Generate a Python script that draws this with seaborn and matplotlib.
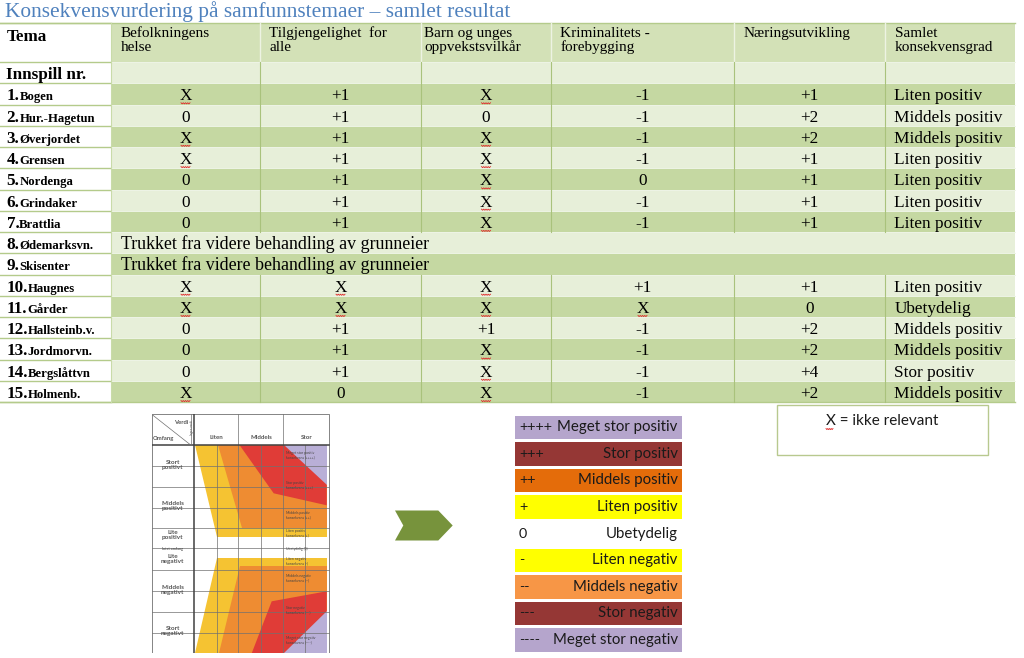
import numpy as np
import pandas as pd
import seaborn as sns
import matplotlib.pyplot as plt
from matplotlib.colors import ListedColormap
from matplotlib.patches import Rectangle

# ---- table content ----
title = "Konsekvensvurdering på samfunnstemaer – samlet resultat"
theme_headers = ["Befolkningens\nhelse", "Tilgjengelighet  for\nalle", "Barn og unges\noppvekstsvilkår",
                 "Kriminalitets -\nforebygging", "Næringsutvikling", "Samlet\nkonsekvensgrad"]
row_nums = ["1.", "2.", "3.", "4.", "5.", "6.", "7.", "8.", "9.", "10.", "11.", "12.", "13.", "14.", "15."]
row_names = ["Bogen", "Hur.-Hagetun", "Øverjordet", "Grensen", "Nordenga", "Grindaker", "Brattlia",
             "Ødemarksvn.", "Skisenter", "Haugnes", "Gårder", "Hallsteinb.v.", "Jordmorvn.",
             "Bergslåttvn", "Holmenb."]
befolkning = ["X", "0", "X", "X", "0", "0", "0", None, None, "X", "X", "0", "0", "0", "X"]
tilgjengelighet = ["+1", "+1", "+1", "+1", "+1", "+1", "+1", None, None, "X", "X", "+1", "+1", "+1", "0"]
barn = ["X", "0", "X", "X", "X", "X", "X", None, None, "X", "X", "+1", "X", "X", "X"]
kriminalitet = ["-1", "-1", "-1", "-1", "0", "-1", "-1", None, None, "+1", "X", "-1", "-1", "-1", "-1"]
naering = ["+1", "+2", "+2", "+1", "+1", "+1", "+1", None, None, "+1", "0", "+2", "+2", "+4", "+2"]
samlet = ["Liten positiv", "Middels positiv", "Middels positiv", "Liten positiv", "Liten positiv",
          "Liten positiv", "Liten positiv", None, None, "Liten positiv", "Ubetydelig",
          "Middels positiv", "Middels positiv", "Stor positiv", "Middels positiv"]
withdrawn_text = "Trukket fra videre behandling av grunneier"

# ---- colour key ----
key_symbols = ["++++", "+++", "++", "+", "0", "-", "--", "---", "----"]
key_labels = ["Meget stor positiv", "Stor positiv", "Middels positiv", "Liten positiv", "Ubetydelig",
              "Liten negativ", "Middels negativ", "Stor negativ", "Meget stor negativ"]
key_colors = ["#b5a5cc", "#953735", "#e46c0a", "#ffff00", "#ffffff",
              "#ffff00", "#f79646", "#953735", "#b5a5cc"]

# ---- small consequence matrix (local pixel coords of the pasted picture) ----
matrix_cols = ["Liten", "Middels", "Stor"]
matrix_rows = ["Stort\npositivt", "Middels\npositivt", "Lite\npositivt", "Lite\nnegativt",
               "Middels\nnegativt", "Stort\nnegativt"]
matrix_row_y = [51, 92, 121, 145, 176, 217]
matrix_notes = ["Meget stor positiv\nkonsekvens (++++)", "Stor positiv\nkonsekvens (+++)",
                "Middels positiv\nkonsekvens (++)", "Liten positiv\nkonsekvens (+)", "Ubetydelig (0)",
                "Liten negativ\nkonsekvens (-)", "Middels negativ\nkonsekvens (--)",
                "Stor negativ\nkonsekvens (---)", "Meget stor negativ\nkonsekvens (----)"]
matrix_note_y = [41, 71, 101, 119, 134.5, 147, 164, 196, 226]
yellow_up_x, yellow_up_y = [43, 175, 175, 65], [31, 31, 123, 123]
orange_up_x, orange_up_y = [66, 175, 175, 90], [31, 31, 114, 114]
red_up_x, red_up_y = [88, 175, 175, 122], [31, 31, 91, 79]
lav_up_x, lav_up_y = [132, 175, 175], [31, 31, 71]
yellow_lo_x, yellow_lo_y = [65, 175, 175, 43], [144, 144, 239, 239]
orange_lo_x, orange_lo_y = [88, 175, 175, 67], [152, 152, 239, 239]
red_lo_x, red_lo_y = [120, 175, 175, 100], [187, 177, 239, 239]
lav_lo_x, lav_lo_y = [175, 175, 132], [197, 239, 239]
matrix_hlines = [51.7, 72.3, 93.3, 114, 134, 155.7, 176.7, 197.3, 218.3]
matrix_vlines_full = [86.7, 131.7]
matrix_vlines_body = [65.7, 109, 153.3]

# ---- layout ----
W, H = 1024, 658
col_edges = [0, 111, 260, 421, 551, 734, 885, 1015]
head_x_pad = [9.7, 9.3, 3.5, 9.5, 10, 10]
head_top, head_bot, body_bot = 22.7, 62, 402.3
row_h = (body_bot - head_bot) / 16

green_head = "#d3e1b7"
green_dark = "#c5d8a2"
green_light = "#e7efd9"
line_green = "#b4cb8b"
title_blue = "#4f81bd"
serif = "Liberation Serif"
sans = "Lato"

fig = plt.figure(figsize=(W / 100, H / 100), dpi=100)


def px_axes(x0, y0, x1, y1):
    return fig.add_axes([x0 / W, 1 - y1 / H, (x1 - x0) / W, (y1 - y0) / H])


# striped body of the table
bands = pd.DataFrame({"shade": [i % 2 for i in range(16)]})
hax = px_axes(col_edges[1], head_bot, col_edges[-1], body_bot)
sns.heatmap(bands, ax=hax, cmap=ListedColormap([green_light, green_dark]), vmin=0, vmax=1,
            cbar=False, xticklabels=False, yticklabels=False)
hax.axis("off")

# colour key as horizontal bars
key_df = pd.DataFrame({"label": key_labels, "bar": [1] * len(key_labels)})
lax = px_axes(515, 414, 681.7, 653.3)
sns.barplot(data=key_df, x="bar", y="label", hue="label", palette=key_colors, orient="h",
            width=0.88, saturation=1, legend=False, ax=lax)
lax.set_xlim(0, 1)
lax.axis("off")
for i, (sym, lab) in enumerate(zip(key_symbols, key_labels)):
    lax.text(0.024, i, sym, ha="left", va="center", fontsize=10.4, family=sans, color="#1a1a1a")
    lax.text(0.976, i, lab, ha="right", va="center", fontsize=10.8, family=sans, color="#1a1a1a")

# consequence matrix picture
dax = px_axes(151.7, 414.3, 331.7, 653.3)
dax.set_xlim(0, 180)
dax.set_ylim(239, 0)
dax.axis("off")
for xs, ys, c in [(yellow_up_x, yellow_up_y, "#f5c332"), (orange_up_x, orange_up_y, "#ee8c32"),
                  (red_up_x, red_up_y, "#e03c37"), (lav_up_x, lav_up_y, "#b9afd7"),
                  (yellow_lo_x, yellow_lo_y, "#f5c332"), (orange_lo_x, orange_lo_y, "#ee8c32"),
                  (red_lo_x, red_lo_y, "#e03c37"), (lav_lo_x, lav_lo_y, "#b9afd7")]:
    dax.fill(xs, ys, color=c, lw=0)
for y in matrix_hlines:
    dax.plot([0, 177], [y, y], color="#707070", lw=0.5)
for x in matrix_vlines_full:
    dax.plot([x, x], [0, 239], color="#707070", lw=0.5)
for x in matrix_vlines_body:
    dax.plot([x, x], [30.7, 239], color="#707070", lw=0.5)
dax.plot([0, 177], [30.7, 30.7], color="#404040", lw=1.1)
dax.plot([42.3, 42.3], [0, 239], color="#404040", lw=1.1)
dax.plot([39, 39], [0, 30.7], color="#707070", lw=0.5)
dax.plot([0, 39], [0, 30.7], color="#707070", lw=0.5)
dax.add_patch(Rectangle((0, 0), 177, 239, fill=False, ec="#707070", lw=0.6))
dax.text(30, 8, "Verdi", fontsize=4.2, weight="bold", color="#555555", family=sans, ha="center", va="center")
dax.text(12, 24, "Omfang", fontsize=4.2, weight="bold", color="#555555", family=sans, ha="center", va="center")
dax.text(40.6, 13, "Ingen verdi", fontsize=2.2, color="#555555", family=sans, rotation=90, ha="center", va="center")
for k, name in enumerate(matrix_cols):
    dax.text(64.5 + 45 * k, 23, name, fontsize=4.4, weight="bold", color="#555555", family=sans,
             ha="center", va="center")
for name, y in zip(matrix_rows, matrix_row_y):
    dax.text(21, y, name, fontsize=4.6, weight="bold", color="#555555", family=sans,
             ha="center", va="center", linespacing=1.0)
dax.text(21, 134.5, "Intet omfang", fontsize=2.6, weight="bold", color="#555555", family=sans,
         ha="center", va="center")
for note, y in zip(matrix_notes, matrix_note_y):
    dax.text(134, y, note, fontsize=2.5, color="#444444", family=sans, ha="left", va="center",
             linespacing=1.1)

# main overlay axes in figure pixels
ax = fig.add_axes([0, 0, 1, 1])
ax.set_xlim(0, W)
ax.set_ylim(H, 0)
ax.axis("off")
renderer = fig.canvas.get_renderer()

ax.add_patch(Rectangle((col_edges[1], head_top), col_edges[-1] - col_edges[1], head_bot - head_top,
                       color=green_head, lw=0))


def squiggle(x, y, w=9.0):
    xs = np.linspace(x - w / 2, x + w / 2, 9)
    ys = y + np.array([0, 1.1, 0, 1.1, 0, 1.1, 0, 1.1, 0])
    ax.plot(xs, ys, color="#e02828", lw=0.6)


# grid lines
row_lines = [head_top, head_bot] + [head_bot + row_h * k for k in range(1, 17)]
for y in row_lines:
    ax.plot([col_edges[0], col_edges[1]], [y, y], color=line_green, lw=1)
    ax.plot([col_edges[1], col_edges[-1]], [y, y], color="#eef4e6", lw=0.7)
ax.plot([0, col_edges[-1]], [head_top, head_top], color=line_green, lw=1)
ax.plot([0, col_edges[-1]], [body_bot, body_bot], color=line_green, lw=1)
gap_top, gap_bot = head_bot + row_h * 8, head_bot + row_h * 10
for x in col_edges[2:-1]:
    ax.plot([x, x], [head_top, head_bot], color="#edf3e3", lw=1)
    ax.plot([x, x], [head_bot, gap_top], color="#a9c27c", lw=0.8)
    ax.plot([x, x], [gap_bot, body_bot], color="#a9c27c", lw=0.8)
ax.plot([col_edges[1]] * 2, [head_top, body_bot], color="#c9dba9", lw=0.8)

# title and headers
ax.text(5, 17, title, fontsize=15.4, color=title_blue, family=serif, va="baseline")
ax.text(6.5, head_top + 18.3, "Tema", fontsize=12.3, weight="bold", family=serif, va="baseline")
for j, head in enumerate(theme_headers):
    for k, line in enumerate(head.split("\n")):
        ax.text(col_edges[j + 1] + head_x_pad[j], 36.7 + 14.3 * k, line, fontsize=11,
                family=serif, va="baseline")
ax.text(6.5, head_bot + 17.3, "Innspill nr.", fontsize=12.3, weight="bold", family=serif, va="baseline")

value_cols = [befolkning, tilgjengelighet, barn, kriminalitet, naering]
for i in range(len(row_names)):
    base = head_bot + row_h * (i + 1) + 17
    t = ax.text(6.5, base, row_nums[i], fontsize=12.3, weight="bold", family=serif, va="baseline")
    x_end = t.get_window_extent(renderer=renderer).x1
    ax.text(x_end, base, row_names[i], fontsize=9.2, weight="bold", family=serif, va="baseline")
    if befolkning[i] is None:
        ax.text(col_edges[1] + 9.7, base, withdrawn_text, fontsize=12.9, family=serif, va="baseline")
        continue
    for j, col in enumerate(value_cols):
        cx = (col_edges[j + 1] + col_edges[j + 2]) / 2
        ax.text(cx, base, col[i], fontsize=12.4, family=serif, ha="center", va="baseline")
        if col[i] == "X":
            squiggle(cx, base + 2.5)
    ax.text(col_edges[6] + 9.5, base, samlet[i], fontsize=12.4, family=serif, va="baseline")

# note box
ax.add_patch(Rectangle((777, 405), 210.7, 50, fill=False, ec="#b8c98f", lw=1))
ax.text(882, 421, "X = ikke relevant", fontsize=11, family=sans, ha="center", va="center", color="#1a1a1a")
squiggle(829.5, 428.5, w=7)

# green chevron between matrix and key
cx0, cy0, cw, ch, tip, notch = 395, 525.5, 57.7, 30, 14.4, 8.3
ax.fill([cx0, cx0 + cw - tip, cx0 + cw, cx0 + cw - tip, cx0, cx0 + notch],
        [cy0 - ch / 2, cy0 - ch / 2, cy0, cy0 + ch / 2, cy0 + ch / 2, cy0], color="#77933c", lw=0)

fig.savefig("out.png", dpi=100)
